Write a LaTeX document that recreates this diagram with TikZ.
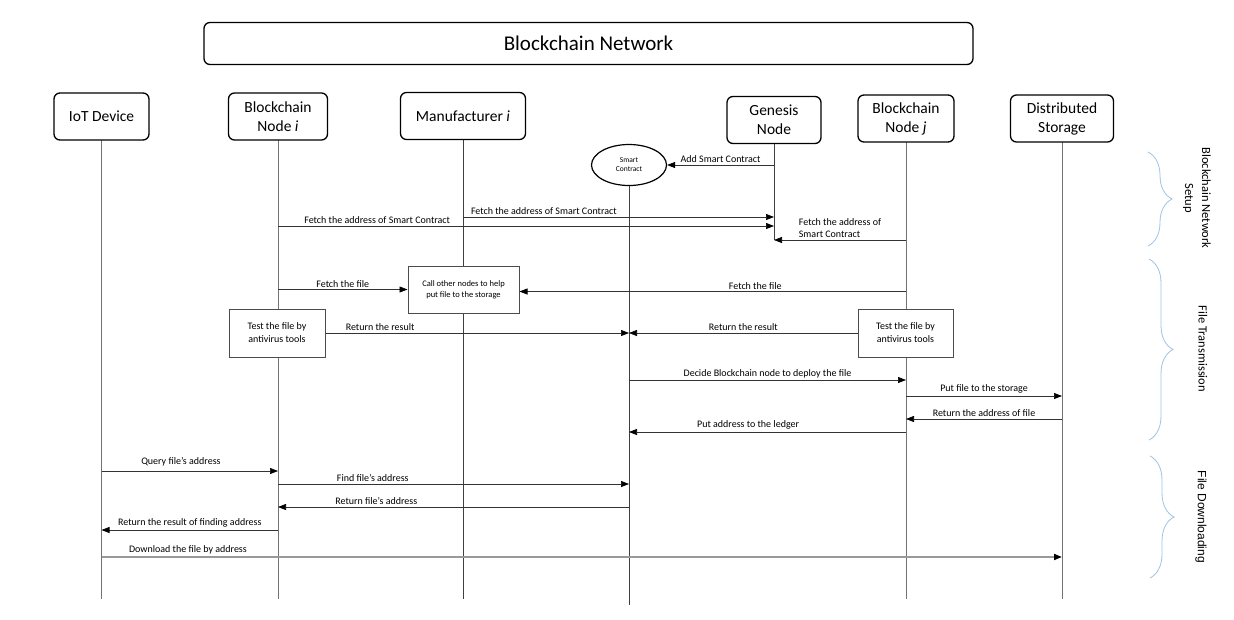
\documentclass[tikz,border=0pt]{standalone}
\usepackage{fontspec}
\setmainfont{Carlito}
\newfontfamily\arialfont{Liberation Sans}
\usetikzlibrary{calc,positioning,arrows.meta,shapes.geometric,decorations.pathreplacing}
\definecolor{bracecol}{RGB}{157,195,230}

\begin{document}
\begin{tikzpicture}[
  x=1pt,y=-1pt,
  actor/.style={rectangle,rounded corners=6pt,draw=black,line width=1.3pt,fill=white,
    minimum height=47pt,align=center,inner sep=0pt,font=\fontsize{15.5}{19}\selectfont},
  lifeline/.style={draw=black!55,line width=1pt},
  msg/.style={-{Triangle[length=8pt,width=6pt,color=black]},draw=black!80,line width=0.7pt},
  msg_label/.style={above,inner sep=2pt,font=\fontsize{10}{12}\selectfont},
  download/.style={draw=black!40,line width=1.8pt},
  task/.style={rectangle,draw=black!70,line width=1pt,fill=white,align=center,inner sep=0pt},
  phase/.style={decorate,decoration={brace,amplitude=24pt,aspect=0.5},draw=bracecol,line width=0.8pt},
  phase_label/.style={rotate=-90,align=center,font=\fontsize{12.5}{17}\selectfont},
  ]

  \useasboundingbox (0,0) rectangle (1234,619);

  \node (title) [actor,minimum width=769pt,minimum height=42pt,font=\fontsize{21}{25}\selectfont] at (588.5,43.5) {Blockchain Network};

  % participants and their lifelines
  \foreach \name/\x/\y/\w/\txt in {iot/101.5/116.5/95/{IoT Device},
    nodei/278/116.5/99/{Blockchain\\Node \textit{i}},
    manu/463/116/125/{Manufacturer \textit{i}},
    nodej/906/118.5/96/{Blockchain\\Node \textit{j}},
    storage/1062/118.5/103/{Distributed\\Storage}}
  {
    \coordinate (\name_end) at (\x,599);
    \draw[lifeline] (\x,\y) -- (\name_end);
    \node (\name) [actor,minimum width=\w pt] at (\x,\y) {\txt};
  }
  \draw[lifeline,draw=black!75] (manu.south) -- (manu_end);

  \node (genesis) [actor,minimum width=94pt] at (774,120) {Genesis\\Node};
  \coordinate (genesis_end) at (genesis |- 0,240);
  \draw[lifeline,draw=black!75] (genesis.south) -- (genesis_end);

  \node (contract) [ellipse,draw=black,line width=1.2pt,minimum width=75pt,minimum height=41pt,
    inner sep=0pt,align=center,font=\fontsize{7.5}{9}\selectfont] at (629,165) {Smart\\Contract};
  \coordinate (contract_end) at (contract |- 0,605);
  \draw[lifeline,draw=black!75] (contract.south) -- (contract_end);

  % Blockchain Network Setup
  \draw[msg] (genesis |- contract.east) -- node[msg_label] {Add Smart Contract} (contract.east);
  \draw[msg] (manu |- 0,217) -- node[msg_label,pos=0.26] {Fetch the address of Smart Contract} (genesis |- 0,217);
  \draw[msg] (nodei |- 0,226) -- node[msg_label,pos=0.2] {Fetch the address of Smart Contract} (genesis |- 0,226);
  \draw[msg] (nodej |- genesis_end) -- node[msg_label,align=left] {Fetch the address of\\Smart Contract} (genesis_end);

  % File Transmission
  \node (call) [task,minimum width=111pt,minimum height=47pt,font=\fontsize{8.5}{11}\selectfont] at (463.5,289.5) {Call other nodes to help\\put file to the storage};
  \node (test_left) [task,minimum width=96pt,minimum height=48pt,font=\fontsize{10}{13}\selectfont] at (277,333) {Test the file by\\antivirus tools};
  \node (test_right) [task,minimum width=95pt,minimum height=48pt,font=\fontsize{10}{13}\selectfont] at (905.5,333) {Test the file by\\antivirus tools};

  \draw[msg] (nodei |- call.west) -- node[msg_label] {Fetch the file} (call.west);
  \draw[msg] (nodej |- 0,291.5) -- node[msg_label,pos=0.39] {Fetch the file} (call.east |- 0,291.5);
  \draw[msg] (test_left.east) -- node[msg_label,pos=0.18] {Return the result} (contract |- test_left.east);
  \draw[msg] (test_right.west) -- node[msg_label] {Return the result} (contract |- test_right.west);
  \draw[msg] (contract |- 0,380) -- node[msg_label] {Decide Blockchain node to deploy the file} (nodej |- 0,380);
  \draw[msg] (nodej |- 0,396) -- node[msg_label] {Put file to the storage} (storage |- 0,396);
  \draw[msg] (storage |- 0,419) -- node[msg_label] {Return the address of file} (nodej |- 0,419);
  \draw[msg] (nodej |- 0,432) -- node[msg_label,pos=0.57] {Put address to the ledger} (contract |- 0,432);

  % File Downloading
  \draw[msg] (iot |- 0,471) -- node[msg_label,pos=0.45,yshift=3pt] {Query file’s address} (nodei |- 0,471);
  \draw[msg] (nodei |- 0,484) -- node[msg_label,pos=0.27] {Find file’s address} (contract |- 0,484);
  \draw[msg] (contract |- 0,507) -- node[msg_label,pos=0.72] {Return file’s address} (nodei |- 0,507);
  \draw[msg] (nodei |- 0,530) -- node[msg_label] {Return the result of finding address} (iot |- 0,530);
  \draw[msg,download] (iot |- 0,557) -- node[msg_label,pos=0.09] {Download the file by address} (storage |- 0,557);

  % phases on the right
  \draw[phase] (1148,152) -- (1148,246);
  \draw[phase] (1149,259) -- (1149,440);
  \draw[phase] (1150,456) -- (1150,578);
  \node (setup_label) [phase_label] at (1197,198) {Blockchain Network\\Setup};
  \node (transmission_label) [phase_label] at (1203,349) {File Transmission};
  \node (downloading_label) [phase_label,font=\arialfont\fontsize{12}{14}\selectfont] at (1201,517) {File Downloading};

\end{tikzpicture}
\end{document}
